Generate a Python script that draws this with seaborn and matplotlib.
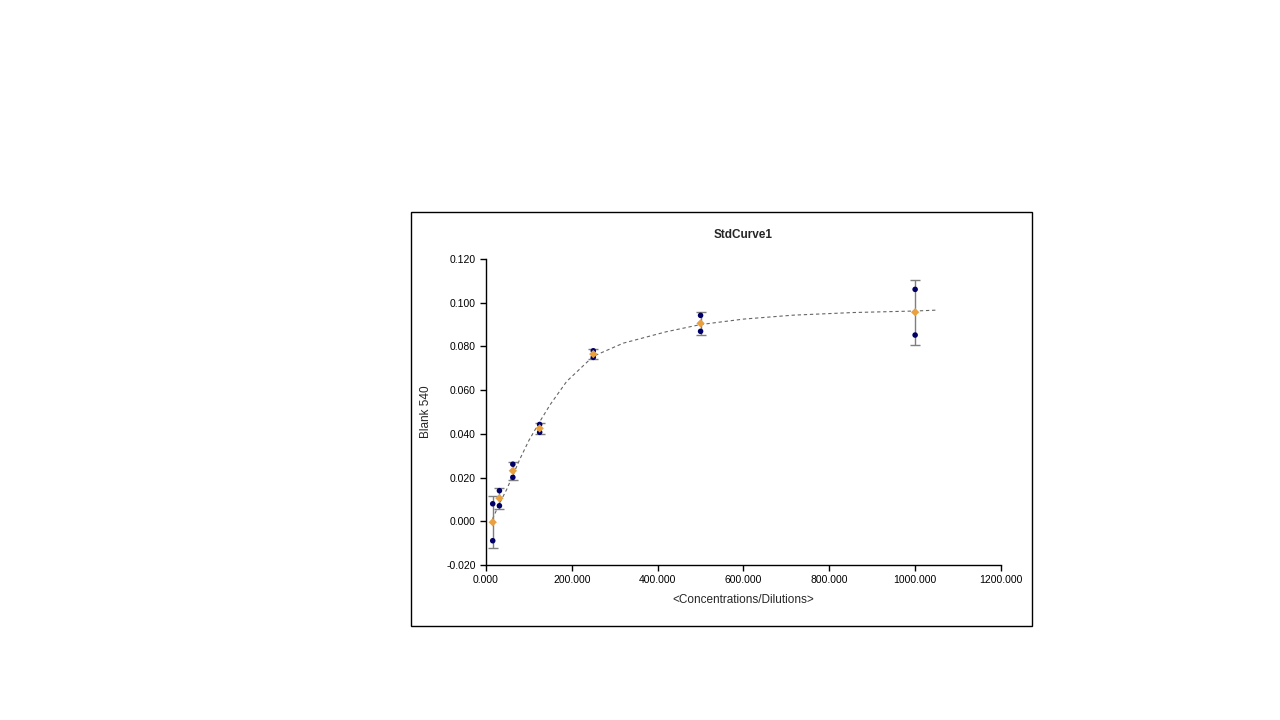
import numpy as np
import pandas as pd
import matplotlib
matplotlib.use("Agg")
import matplotlib.pyplot as plt
from matplotlib.patches import Rectangle
from matplotlib.ticker import FormatStrFormatter
import seaborn as sns

# standard concentrations and the two replicate readings
conc = [15.625, 31.25, 62.5, 125, 250, 500, 1000]
rep1 = [0.0080, 0.0140, 0.0261, 0.0443, 0.0780, 0.0942, 0.1061]
rep2 = [-0.0089, 0.0071, 0.0201, 0.0407, 0.0750, 0.0869, 0.0852]

# fitted standard curve
fit_x = [15, 31, 48, 62.5, 79, 100, 125, 150, 188, 250, 320, 420, 500, 600, 716, 856, 1000, 1050]
fit_y = [0.0010, 0.0080, 0.0145, 0.0210, 0.0285, 0.0370, 0.0455, 0.0535, 0.0640, 0.0755,
         0.0815, 0.0867, 0.0900, 0.0925, 0.0943, 0.0955, 0.0962, 0.0966]

sns.set_style("ticks")
plt.rcParams['font.family'] = ['Liberation Sans', 'DejaVu Sans']

reps = pd.DataFrame({
    'conc': conc * 2,
    'value': rep1 + rep2,
})
stats = reps.groupby('conc')['value'].agg(['mean', 'std']).reset_index()
curve = pd.DataFrame({'x': fit_x, 'y': fit_y})

fig = plt.figure(figsize=(12.8, 7.2), dpi=100)
ax = fig.add_axes([0.3797, 0.2153, 0.4023, 0.4250])

sns.lineplot(data=curve, x='x', y='y', ax=ax, color='#666666', lw=0.8,
             linestyle=(0, (3, 2.5)), zorder=1)
ax.errorbar(stats['conc'], stats['mean'], yerr=stats['std'], fmt='none',
            ecolor='#7f7f7f', elinewidth=1.0, capsize=3.5, capthick=1.0, zorder=2)
sns.scatterplot(data=reps, x='conc', y='value', ax=ax, color='#000066', marker='o',
                s=16, edgecolor='none', zorder=3)
sns.scatterplot(data=stats, x='conc', y='mean', ax=ax, color='#E8A040', marker='D',
                s=18, edgecolor='none', zorder=4)

ax.set_xlim(0, 1200)
ax.set_ylim(-0.02, 0.12)
ax.set_xticks([0, 200, 400, 600, 800, 1000, 1200])
ax.set_yticks([-0.02, 0.0, 0.02, 0.04, 0.06, 0.08, 0.10, 0.12])
ax.xaxis.set_major_formatter(FormatStrFormatter('%.3f'))
ax.yaxis.set_major_formatter(FormatStrFormatter('%.3f'))
ax.tick_params(labelsize=7.5, length=4, width=1, colors='black', direction='out')
sns.despine(ax=ax)
for s in ['left', 'bottom']:
    ax.spines[s].set_color('black')
    ax.spines[s].set_linewidth(1)

ax.set_title('StdCurve1', fontsize=8.5, fontweight='bold', pad=15)
ax.set_xlabel('<Concentrations/Dilutions>', fontsize=8.5, labelpad=6)
ax.set_ylabel('Blank 540', fontsize=8.5, labelpad=10)

fig.patches.append(Rectangle((0.3211, 0.1306), 0.4852, 0.5750, transform=fig.transFigure,
                             fill=False, edgecolor='black', linewidth=1))

fig.savefig('out.png', dpi=100, facecolor='white')
